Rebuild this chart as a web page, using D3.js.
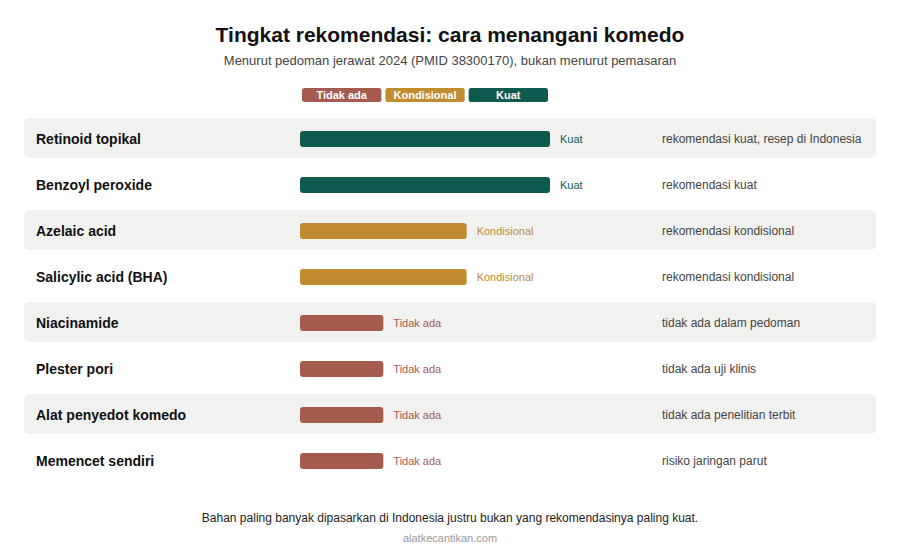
<!DOCTYPE html>
<html>
<head>
<meta charset="utf-8">
<script src="https://cdn.jsdelivr.net/npm/d3@7"></script>
<style>
  body { margin: 0; background: #fff; }
  svg text { font-family: Arial, "Liberation Sans", Helvetica, sans-serif; }
</style>
</head>
<body>
<svg id="chart" width="900" height="560"></svg>
<script>
// data
const items = ["Retinoid topikal", "Benzoyl peroxide", "Azelaic acid", "Salicylic acid (BHA)",
  "Niacinamide", "Plester pori", "Alat penyedot komedo", "Memencet sendiri"];
const levels = [3, 3, 2, 2, 1, 1, 1, 1];
const levelNames = ["Tidak ada", "Kondisional", "Kuat"];
const notes = ["rekomendasi kuat, resep di Indonesia", "rekomendasi kuat", "rekomendasi kondisional",
  "rekomendasi kondisional", "tidak ada dalam pedoman", "tidak ada uji klinis",
  "tidak ada penelitian terbit", "risiko jaringan parut"];
const levelColors = ["#a65b4f", "#c18b2f", "#0f5a4f"];

const svg = d3.select("#chart");
const W = 900;

const x = d3.scaleLinear().domain([0, 3]).range([300, 550]);
const y = d3.scaleBand().domain(items).range([116, 484]).paddingInner(0);
const color = d3.scaleOrdinal().domain([1, 2, 3]).range(levelColors);

// title
svg.append("text").attr("x", W / 2).attr("y", 42).attr("text-anchor", "middle")
  .style("font-size", "21px").style("font-weight", "bold").attr("fill", "#111")
  .text("Tingkat rekomendasi: cara menangani komedo");
svg.append("text").attr("x", W / 2).attr("y", 65).attr("text-anchor", "middle")
  .style("font-size", "13px").attr("fill", "#444")
  .text("Menurut pedoman jerawat 2024 (PMID 38300170), bukan menurut pemasaran");

// legend, one box per level across the scale
const leg = svg.append("g").selectAll("g").data(levelNames).join("g");
leg.append("rect")
  .attr("x", (d, i) => x(i) + 2)
  .attr("width", (d, i) => x(i + 1) - x(i) - 4)
  .attr("y", 88).attr("height", 14).attr("rx", 2.5)
  .attr("fill", (d, i) => levelColors[i]);
leg.append("text")
  .attr("x", (d, i) => (x(i) + x(i + 1)) / 2).attr("y", 99)
  .attr("text-anchor", "middle").style("font-size", "11px").style("font-weight", "bold")
  .attr("fill", "#fff").text(d => d);

// rows
const rows = svg.append("g").selectAll("g").data(items).join("g")
  .attr("transform", d => `translate(0,${y(d)})`);

rows.filter((d, i) => i % 2 === 0).append("rect")
  .attr("x", 24).attr("width", 852).attr("y", 2).attr("height", 40).attr("rx", 5)
  .attr("fill", "#f1f1ef");

const mid = y.bandwidth() / 2;

rows.append("text").attr("x", 36).attr("y", mid).attr("dy", "0.35em")
  .style("font-size", "14px").style("font-weight", "bold").attr("fill", "#111")
  .text(d => d);

rows.append("rect")
  .attr("x", x(0)).attr("y", mid - 8).attr("height", 16).attr("rx", 3)
  .attr("width", (d, i) => x(levels[i]) - x(0))
  .attr("fill", (d, i) => color(levels[i]));

rows.append("text")
  .attr("x", (d, i) => x(levels[i]) + 10).attr("y", mid).attr("dy", "0.35em")
  .style("font-size", "11px").attr("fill", (d, i) => color(levels[i]))
  .text((d, i) => levelNames[levels[i] - 1]);

rows.append("text").attr("x", 662).attr("y", mid).attr("dy", "0.35em")
  .style("font-size", "12px").attr("fill", "#444")
  .text((d, i) => notes[i]);

// footer
svg.append("text").attr("x", W / 2).attr("y", 522).attr("text-anchor", "middle")
  .style("font-size", "12px").attr("fill", "#222")
  .text("Bahan paling banyak dipasarkan di Indonesia justru bukan yang rekomendasinya paling kuat.");
svg.append("text").attr("x", W / 2).attr("y", 542).attr("text-anchor", "middle")
  .style("font-size", "11px").attr("fill", "#999")
  .text("alatkecantikan.com");
</script>
</body>
</html>
